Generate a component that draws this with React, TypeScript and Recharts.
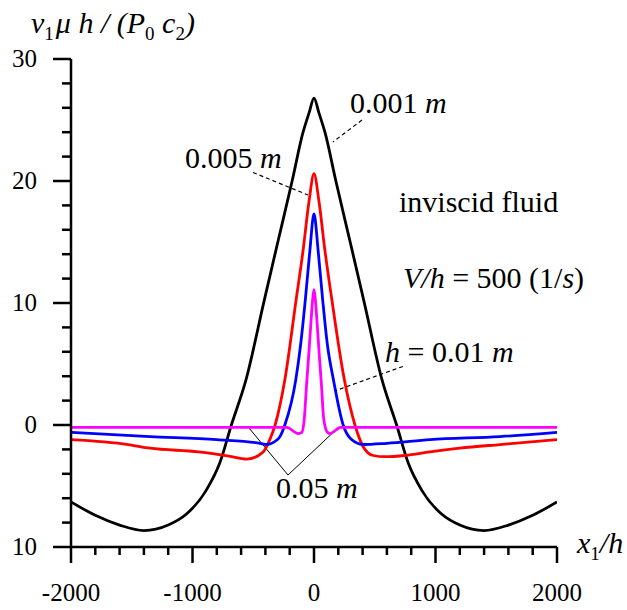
import React from "react";
import { LineChart, Line, XAxis, YAxis, ReferenceLine, Customized } from "recharts";

// x1/h and v1*mu*h/(P0*c2)
const blackX = [-2000, -1800, -1600, -1400, -1200, -1050, -890, -775, -680, -560, -410, -300, -180, -90, -40, 0, 40, 90, 180, 300, 410, 560, 680, 775, 890, 1050, 1200, 1400, 1600, 1800, 2000];
const blackY = [-6.3, -7.4, -8.2, -8.65, -8.2, -7.3, -5.4, -3.1, 0, 3.7, 10.2, 14.9, 20.0, 24.0, 25.6, 26.8, 25.6, 24.0, 20.0, 14.9, 10.2, 3.7, 0, -3.1, -5.4, -7.3, -8.2, -8.65, -8.2, -7.4, -6.3];

const redX = [-2000, -1530, -1350, -950, -700, -554, -417, -360, -320, -240, -148, -90, -40, 0, 40, 90, 148, 250, 337, 406, 488, 584, 750, 955, 1200, 1530, 2000];
const redY = [-1.2, -1.6, -1.9, -2.2, -2.55, -2.8, -2.2, -1.1, 0, 3.7, 10.2, 14.3, 18.4, 20.6, 18.4, 14.3, 10.2, 3.7, 0, -1.8, -2.5, -2.6, -2.5, -2.2, -1.9, -1.6, -1.2];

const blueX = [-2000, -1350, -800, -444, -390, -330, -280, -240, -150, -110, -72, -34, 0, 34, 72, 110, 160, 240, 300, 405, 600, 955, 1530, 2000];
const blueY = [-0.6, -0.95, -1.2, -1.5, -1.6, -1.4, -0.95, 0, 3.7, 6.6, 10.2, 14.3, 17.3, 14.3, 10.2, 6.6, 3.7, 0, -1.1, -1.6, -1.5, -1.2, -0.95, -0.6];

const magentaX = [-2000, -225, -129, -100, -80, -60, -45, -28, -10, 0, 10, 28, 45, 60, 80, 110, 130, 220, 2000];
const magentaY = [-0.2, -0.2, -0.7, -0.6, 0.5, 3.5, 5.5, 8.0, 10.4, 11.1, 10.4, 8.0, 5.5, 3.5, 0.5, -0.6, -0.7, -0.2, -0.2];

const xTicks = [-2000, -1800, -1600, -1400, -1200, -1000, -800, -600, -400, -200, 0, 200, 400, 600, 800, 1000, 1200, 1400, 1600, 1800, 2000];
const yTicks = [-10, -8, -6, -4, -2, 0, 2, 4, 6, 8, 10, 12, 14, 16, 18, 20, 22, 24, 26, 28, 30];

const toPoints = (xs: number[], ys: number[]) => xs.map((x, i) => ({ x, y: ys[i] }));

const FONT = "'Liberation Serif', 'Times New Roman', serif";

const XTick = (props: any) => {
	const { x, y, payload } = props;
	const major = payload.value % 1000 === 0;
	return (
		<g>
			<line x1={x} y1={y} x2={x} y2={y + (major ? 16 : 8)} stroke="#000" strokeWidth={2.5} />
			{major && (
				<text x={x} y={y + 54} textAnchor="middle" fontSize={25} fontFamily={FONT} fill="#000">
					{payload.value}
				</text>
			)}
		</g>
	);
};

const YTick = (props: any) => {
	const { x, y, payload } = props;
	const major = payload.value % 10 === 0;
	return (
		<g>
			<line x1={x - (major ? 18 : 9)} y1={y} x2={x} y2={y} stroke="#000" strokeWidth={2.5} />
			{major && (
				<text x={x - 34} y={y + 8} textAnchor="end" fontSize={25} fontFamily={FONT} fill="#000">
					{Math.abs(payload.value)}
				</text>
			)}
		</g>
	);
};

// labels placed as in the figure
const Annotations = () => (
	<g fontFamily={FONT} fill="#000" fontSize={30}>
		<text x={31} y={33} fontStyle="italic" fontSize={30}>
			v<tspan dy={7} fontSize={19} fontStyle="normal">1</tspan>
			<tspan dy={-7} dx={2}>μ h / (P</tspan>
			<tspan dy={7} fontSize={19} fontStyle="normal">0</tspan>
			<tspan dy={-7}> c</tspan>
			<tspan dy={7} fontSize={19} fontStyle="normal">2</tspan>
			<tspan dy={-7}>)</tspan>
		</text>
		<text x={350} y={113}>
			0.001 <tspan fontStyle="italic">m</tspan>
		</text>
		<text x={185} y={168}>
			0.005 <tspan fontStyle="italic">m</tspan>
		</text>
		<text x={399} y={212}>inviscid fluid</text>
		<text x={403} y={288}>
			<tspan fontStyle="italic">V/h</tspan> = 500 (1/<tspan fontStyle="italic">s</tspan>)
		</text>
		<text x={385} y={362}>
			<tspan fontStyle="italic">h</tspan> = 0.01 <tspan fontStyle="italic">m</tspan>
		</text>
		<text x={276} y={498}>
			0.05 <tspan fontStyle="italic">m</tspan>
		</text>
		<text x={577} y={553} fontStyle="italic" fontSize={30}>
			x<tspan dy={7} fontSize={19} fontStyle="normal">1</tspan>
			<tspan dy={-7}>/h</tspan>
		</text>
	</g>
);

const leader = { stroke: "#000", strokeWidth: 1.2, strokeDasharray: "4 3" };

export default function App() {
	return (
		<div style={{ position: "absolute", left: 0, top: 0, background: "#fff" }}>
			<LineChart width={627} height={610} margin={{ top: 59, right: 70, bottom: 23, left: 21 }}>
				<XAxis
					dataKey="x"
					type="number"
					domain={[-2000, 2000]}
					ticks={xTicks}
					interval={0}
					height={40}
					tickSize={0}
					tickMargin={0}
					tickLine={false}
					tick={<XTick />}
					axisLine={{ stroke: "#000", strokeWidth: 2.5 }}
					allowDataOverflow
				/>
				<YAxis
					dataKey="y"
					type="number"
					domain={[-10, 30]}
					ticks={yTicks}
					interval={0}
					width={50}
					tickSize={0}
					tickMargin={0}
					tickLine={false}
					tick={<YTick />}
					axisLine={{ stroke: "#000", strokeWidth: 2.5 }}
					allowDataOverflow
				/>
				<ReferenceLine segment={[{ x: 395, y: 25 }, { x: 156, y: 23.2 }]} {...leader} />
				<ReferenceLine segment={[{ x: -502, y: 20.7 }, { x: -49, y: 18.85 }]} {...leader} />
				<ReferenceLine segment={[{ x: 732, y: 4.8 }, { x: 173, y: 2.8 }]} {...leader} />
				<ReferenceLine segment={[{ x: -543, y: -0.15 }, { x: -214, y: -4.1 }]} {...leader} strokeDasharray="none" strokeWidth={1} />
				<ReferenceLine segment={[{ x: -214, y: -4.1 }, { x: 148, y: -0.7 }]} {...leader} strokeDasharray="none" strokeWidth={1} />
				<Line data={toPoints(blackX, blackY)} dataKey="y" type="monotone" stroke="#000000" strokeWidth={2.8} dot={false} isAnimationActive={false} />
				<Line data={toPoints(redX, redY)} dataKey="y" type="monotone" stroke="#ff0000" strokeWidth={2.8} dot={false} isAnimationActive={false} />
				<Line data={toPoints(blueX, blueY)} dataKey="y" type="monotone" stroke="#0000ff" strokeWidth={2.8} dot={false} isAnimationActive={false} />
				<Line data={toPoints(magentaX, magentaY)} dataKey="y" type="monotone" stroke="#ff00ff" strokeWidth={2.8} dot={false} isAnimationActive={false} />
				<Customized component={Annotations} />
			</LineChart>
		</div>
	);
}
